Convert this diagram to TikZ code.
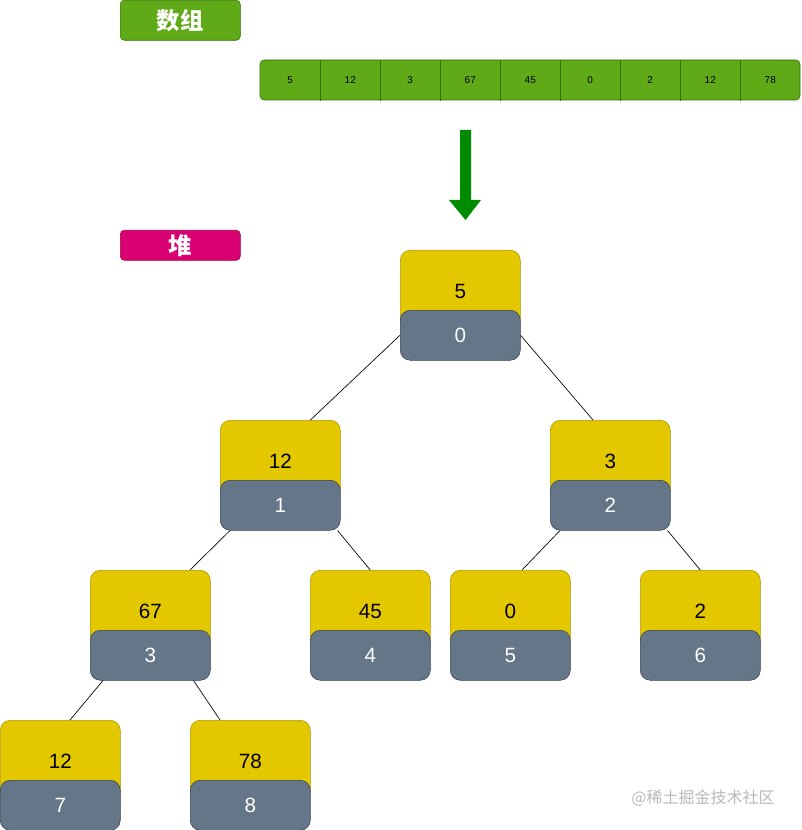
\documentclass[tikz,border=0pt]{standalone}
\usepackage{fontspec}
\setmainfont{Liberation Sans}
\newfontfamily\cjk{Noto Sans CJK SC}
\usetikzlibrary{calc}

\definecolor{arrgreen}{HTML}{60A917}
\definecolor{arrgreenline}{HTML}{2D7600}
\definecolor{darkgreen}{HTML}{008A00}
\definecolor{heapred}{HTML}{D80073}
\definecolor{heapredline}{HTML}{A50040}
\definecolor{valyellow}{HTML}{E3C800}
\definecolor{valyellowline}{HTML}{B09500}
\definecolor{idxgrey}{HTML}{647687}
\definecolor{idxgreyline}{HTML}{314354}

\tikzset{
  title/.style={draw=#1line, fill=#1, rounded corners=3pt, anchor=north west,
    minimum width=90pt, inner sep=0pt, text=white, font=\cjk\bfseries\fontsize{17.5}{17.5}\selectfont},
  cell/.style={anchor=north west, minimum width=45pt, minimum height=30pt, inner sep=0pt,
    font=\fontsize{7.5}{9}\selectfont},
  valbox/.style={draw=valyellowline, fill=valyellow, rounded corners=7.5pt, anchor=north west,
    minimum width=90pt, minimum height=60pt, inner sep=0pt, font=\fontsize{15.5}{15.5}\selectfont},
  idxbox/.style={draw=idxgreyline, fill=idxgrey, rounded corners=7.5pt, anchor=north west,
    minimum width=90pt, minimum height=37.5pt, inner sep=0pt, text=white, font=\fontsize{15.5}{15.5}\selectfont},
  link/.style={draw=black, line width=0.5pt}
}

\begin{document}
\begin{tikzpicture}[x=0.75pt, y=-0.75pt]
  \useasboundingbox (0,0) rectangle (801,830);

  % titles
  \node[title=arrgreen, minimum height=30pt] (arrtitle) at (120,0) {数组};
  \node[title=heapred, minimum height=22.5pt] (heaptitle) at (120,230) {堆};

  % array
  \fill[arrgreen, draw=arrgreenline, rounded corners=3pt] (260,60) rectangle (800,100);
  \foreach \i/\v in {0/5, 1/12, 2/3, 3/67, 4/45, 5/0, 6/2, 7/12, 8/78}
    \node[cell] (a\i) at (260+60*\i,60) {\v};
  \foreach \i in {0,...,7}
    \draw[arrgreenline] (a\i.north east) -- (a\i.south east);

  % arrow
  \fill[darkgreen] (460,130) -- (471,130) -- (471,200) -- (481,200) -- (465.5,220)
    -- (449,200) -- (460,200) -- cycle;

  % heap
  \foreach \n/\x/\y/\v in {0/400/250/5, 1/220/420/12, 2/550/420/3, 3/90/570/67,
      4/310/570/45, 5/450/570/0, 6/640/570/2, 7/0/720/12, 8/190/720/78} {
    \node[valbox] (v\n) at (\x,\y) {\raisebox{-12pt}{\v}};
    \node[idxbox] (i\n) at (\x,\y+60) {\n};
  }

  \draw[link] (i0.west) -- ($(v1.north)!.5!(v1.north east)$);
  \draw[link] (i0.east) -- ($(v2.north west)+(43,0)$);
  \draw[link] ($(i1.south west)+(10,0)$) -- ($(v3.north west)+(100,0)$);
  \draw[link] ($(i1.south east)+(-3,0)$) -- (v4.north);
  \draw[link] ($(i2.south west)+(10,0)$) -- ($(v5.north west)+(72,0)$);
  \draw[link] ($(i2.south east)+(-3,0)$) -- (v6.north);
  \draw[link] ($(i3.south west)+(13,0)$) -- ($(v7.north west)+(70,0)$);
  \draw[link] ($(i3.south east)+(-17,0)$) -- ($(v8.north west)+(30,0)$);

  % watermark
  \node[text=black!28, font=\cjk\fontsize{12}{12}\selectfont] (mark) at (703,798) {@稀土掘金技术社区};
\end{tikzpicture}
\end{document}
